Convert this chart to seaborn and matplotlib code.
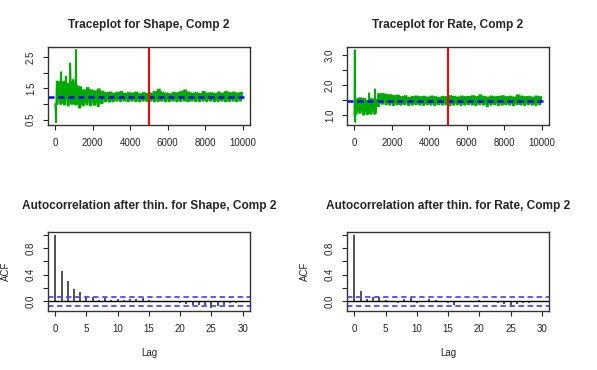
import numpy as np
import pandas as pd
import matplotlib
matplotlib.use("Agg")
import matplotlib.pyplot as plt
import seaborn as sns

# trace envelopes, read per 200-iteration chunk (typical low / high)
shape_lo = [1.00, 1.00, 0.98, 0.95, 1.00, 0.98, 0.88, 0.95, 0.98, 0.95,
            0.97, 0.93, 1.02, 1.08, 1.07, 1.08, 1.10, 1.09, 1.10, 1.08,
            1.10, 1.09, 1.08, 1.10, 1.09, 1.10, 1.08, 1.09, 1.10, 1.08,
            1.09, 1.10, 1.08, 1.09, 1.10, 1.08, 1.10, 1.09, 1.08, 1.10,
            1.09, 1.10, 1.08, 1.09, 1.10, 1.08, 1.09, 1.10, 1.08, 1.10]
shape_hi = [1.72, 1.70, 1.72, 1.66, 1.70, 1.58, 1.55, 1.45, 1.52, 1.45,
            1.42, 1.48, 1.40, 1.36, 1.38, 1.35, 1.37, 1.40, 1.34, 1.36,
            1.35, 1.38, 1.33, 1.36, 1.34, 1.35, 1.40, 1.47, 1.38, 1.35,
            1.33, 1.37, 1.36, 1.40, 1.45, 1.38, 1.35, 1.36, 1.34, 1.40,
            1.35, 1.36, 1.34, 1.38, 1.35, 1.40, 1.36, 1.38, 1.35, 1.37]
shape_start_iter = [1, 40]
shape_start_val = [1.00, 0.42]
shape_spike_iter = [320, 560, 800, 960, 1110]
shape_spike_val = [2.02, 1.88, 2.30, 1.78, 2.73]
shape_mean = 1.22

rate_lo = [1.05, 1.08, 1.02, 1.04, 1.05, 1.05, 1.30, 1.38, 1.36, 1.35,
           1.34, 1.36, 1.35, 1.36, 1.34, 1.35, 1.36, 1.35, 1.34, 1.36,
           1.35, 1.34, 1.36, 1.35, 1.36, 1.33, 1.35, 1.36, 1.34, 1.35,
           1.36, 1.35, 1.34, 1.36, 1.35, 1.30, 1.35, 1.36, 1.34, 1.35,
           1.36, 1.35, 1.33, 1.36, 1.35, 1.34, 1.36, 1.35, 1.34, 1.36]
rate_hi = [1.55, 1.58, 1.56, 1.50, 1.55, 1.52, 1.72, 1.72, 1.70, 1.68,
           1.66, 1.67, 1.62, 1.65, 1.60, 1.63, 1.64, 1.62, 1.63, 1.61,
           1.64, 1.62, 1.60, 1.63, 1.62, 1.65, 1.63, 1.61, 1.64, 1.62,
           1.63, 1.65, 1.62, 1.68, 1.63, 1.61, 1.64, 1.62, 1.63, 1.65,
           1.62, 1.63, 1.61, 1.68, 1.64, 1.62, 1.63, 1.61, 1.64, 1.62]
rate_start_iter = [1, 20, 45]
rate_start_val = [1.00, 3.17, 0.78]
rate_spike_iter = [790, 1100]
rate_spike_val = [1.74, 1.87]
rate_mean = 1.49

burnin = 5000
n_iter = 10000

# autocorrelations after thinning, lags 0..30
lags = list(range(31))
acf_shape = [1.00, 0.46, 0.31, 0.19, 0.14, 0.085, 0.06, 0.025, 0.05, 0.025,
             0.035, 0.025, 0.04, 0.035, 0.05, 0.015, 0.01, 0.005, -0.005, 0.01,
             -0.02, -0.04, -0.05, -0.05, -0.06, -0.096, -0.07, -0.05, -0.03, -0.02,
             0.01]
acf_rate = [1.00, 0.16, 0.04, 0.06, 0.06, 0.02, 0.01, -0.02, 0.03, 0.05,
            -0.03, 0.01, 0.03, 0.02, 0.01, -0.03, -0.05, 0.01, -0.01, 0.01,
            0.02, -0.01, 0.01, -0.03, -0.04, -0.09, -0.04, -0.02, -0.03, 0.01,
            -0.01]
ci = 0.065

sns.set_style("ticks")
plt.rcParams["font.family"] = ["Liberation Sans", "DejaVu Sans"]
plt.rcParams["axes.linewidth"] = 1.0
plt.rcParams["xtick.major.size"] = 3.5
plt.rcParams["ytick.major.size"] = 3.5
plt.rcParams["xtick.labelsize"] = 7
plt.rcParams["ytick.labelsize"] = 7

fig = plt.figure(figsize=(5.97, 3.70), dpi=100)
ax_ts = fig.add_axes([0.080, 0.662, 0.339, 0.211])
ax_tr = fig.add_axes([0.581, 0.662, 0.339, 0.211])
ax_as = fig.add_axes([0.080, 0.160, 0.339, 0.214])
ax_ar = fig.add_axes([0.581, 0.160, 0.339, 0.214])


def trace(ax, lo, hi, st_it, st_val, sp_it, sp_val, mean, yticks, ylabels, ylim, title):
    # each 200-iteration chunk swings between its low and high readings,
    # with the isolated spikes added at the iterations where they were seen
    xs = list(st_it) + list(sp_it)
    ys = list(st_val) + list(sp_val)
    for k in range(len(lo)):
        xs += [200 * k + 55, 200 * k + 80, 200 * k + 130, 200 * k + 180]
        ys += [lo[k], hi[k], lo[k], hi[k]]
    df = pd.DataFrame({"iter": xs, "val": ys}).sort_values("iter")
    sns.lineplot(data=df, x="iter", y="val", ax=ax, color="#00aa00", lw=1.25,
                 sort=False, estimator=None)
    ax.plot([-400, n_iter + 100], [mean, mean], color="#0000ff", lw=1.8,
            dashes=(2.4, 1.6))
    ax.axvline(burnin, color="#ff0000", lw=1.5)
    ax.set_xlim(-400, 10400)
    ax.set_ylim(*ylim)
    ax.set_xticks(range(0, 10001, 2000))
    ax.set_yticks(yticks)
    ax.set_yticklabels(ylabels, rotation=90, va="center")
    ax.set_xlabel("")
    ax.set_ylabel("")
    ax.set_title(title, fontsize=8.6, fontweight="bold", pad=14)


def acfplot(ax, acf, title):
    ax.vlines(lags, 0, acf, color="#222222", lw=1.1)
    ax.axhline(0, color="black", lw=1.0)
    ax.axhline(ci, color="#4d4dff", lw=1.3, dashes=(3, 2))
    ax.axhline(-ci, color="#4d4dff", lw=1.3, dashes=(3, 2))
    ax.set_xlim(-1.2, 31.2)
    ax.set_ylim(-0.14, 1.044)
    ax.set_xticks(range(0, 31, 5))
    ax.set_yticks([0, 0.2, 0.4, 0.6, 0.8, 1.0])
    ax.set_yticklabels(["0.0", "", "0.4", "", "0.8", ""], rotation=90, va="center")
    ax.set_xlabel("Lag", fontsize=7, labelpad=10)
    ax.set_ylabel("ACF", fontsize=7, labelpad=11)
    ax.set_title(title, fontsize=8.6, fontweight="bold", pad=16)


trace(ax_ts, shape_lo, shape_hi, shape_start_iter, shape_start_val,
      shape_spike_iter, shape_spike_val, shape_mean,
      [0.5, 1.0, 1.5, 2.0, 2.5], ["0.5", "", "1.5", "", "2.5"], (0.33, 2.82),
      "Traceplot for Shape, Comp 2")
trace(ax_tr, rate_lo, rate_hi, rate_start_iter, rate_start_val,
      rate_spike_iter, rate_spike_val, rate_mean,
      [1.0, 1.5, 2.0, 2.5, 3.0], ["1.0", "", "2.0", "", "3.0"], (0.68, 3.27),
      "Traceplot for Rate, Comp 2")
acfplot(ax_as, acf_shape, "Autocorrelation after thin. for Shape, Comp 2")
acfplot(ax_ar, acf_rate, "Autocorrelation after thin. for Rate, Comp 2")

for ax in [ax_ts, ax_tr, ax_as, ax_ar]:
    for s in ax.spines.values():
        s.set_color("#333333")
    ax.tick_params(axis="x", pad=6)
    ax.tick_params(axis="y", pad=5)

fig.savefig("out.png", dpi=100)
